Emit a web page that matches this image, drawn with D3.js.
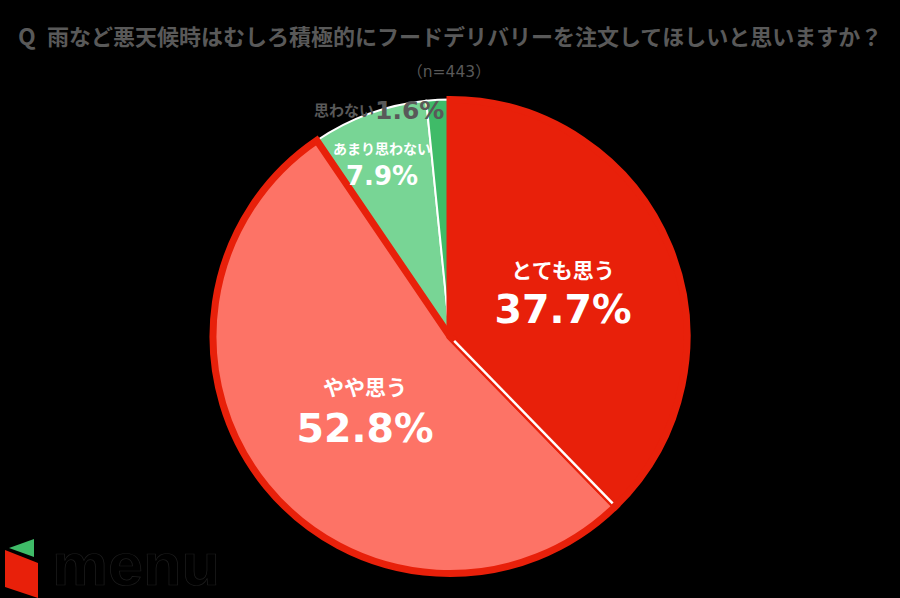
<!DOCTYPE html>
<html lang="ja">
<head>
<meta charset="UTF-8">
<title>Pie</title>
<script src="https://d3js.org/d3.v7.min.js"></script>
<style>
  * { margin: 0; padding: 0; }
  body { background: #000; overflow: hidden; font-family: "Noto Sans CJK JP", sans-serif; }
  svg { display: block; }
  text { font-weight: 700; }
</style>
</head>
<body>
<svg width="900" height="598"></svg>
<script>
const categories = ["とても思う", "やや思う", "あまり思わない", "思わない"];
const values = [37.7, 52.8, 7.9, 1.6];
const fills = ["#e8200a", "#fd7366", "#78d595", "#3fbb68"];
const titleMark = "Q";
const title = "雨など悪天候時はむしろ積極的にフードデリバリーを注文してほしいと思いますか？";
const sampleNote = "（n=443）";
const logoText = "menu";

const svg = d3.select("svg");
const cx = 450, cy = 336.5, radius = 237;

const pie = d3.pie().value(d => d).sort(null);
const slices = pie(values);
const arc = d3.arc().innerRadius(0).outerRadius(radius);

const g = svg.append("g").attr("transform", `translate(${cx},${cy})`);

// 緑 -> ピンク -> 赤 の順で重ねる
const order = [2, 3, 1, 0];
const strokes = ["#e8200a", "#e8200a", "#ffffff", "#ffffff"];
const strokeW = [7, 7, 2, 2];
g.selectAll("path.slice")
  .data(order)
  .enter().append("path")
  .attr("class", "slice")
  .attr("d", i => arc(slices[i]))
  .attr("fill", i => fills[i])
  .attr("stroke", i => strokes[i])
  .attr("stroke-width", i => strokeW[i])
  .attr("stroke-linejoin", "miter");

// 赤とピンクの境目の白線
const sep = d3.pointRadial(slices[0].endAngle, 1);
g.append("line")
  .attr("x1", sep[0] * 6).attr("y1", sep[1] * 6)
  .attr("x2", sep[0] * 233).attr("y2", sep[1] * 233)
  .attr("stroke", "#fff")
  .attr("stroke-width", 2.5);

svg.append("text")
  .attr("x", 18).attr("y", 45)
  .attr("fill", "#595959")
  .attr("font-size", 23)
  .text(titleMark);

svg.append("text")
  .attr("x", 47).attr("y", 45)
  .attr("fill", "#595959")
  .attr("font-size", 22)
  .text(title);

svg.append("text")
  .attr("x", 449).attr("y", 77)
  .attr("text-anchor", "middle")
  .attr("fill", "#595959")
  .attr("font-family", "DejaVu Sans, Noto Sans CJK JP")
  .attr("font-size", 15.5)
  .style("font-weight", 400)
  .text(sampleNote);

const labelPos = [
  { x: 563, y: 278, size: 21, pct: 39.5, dy: 45 },
  { x: 365, y: 395, size: 21, pct: 39.5, dy: 47 },
  { x: 382, y: 154, size: 14, pct: 26, dy: 31 }
];
labelPos.forEach((p, i) => {
  svg.append("text").attr("x", p.x).attr("y", p.y)
    .attr("text-anchor", "middle").attr("fill", "#fff")
    .attr("font-size", p.size).text(categories[i]);
  svg.append("text").attr("x", p.x).attr("y", p.y + p.dy)
    .attr("text-anchor", "middle").attr("fill", "#fff")
    .attr("font-family", "DejaVu Sans")
    .attr("font-size", p.pct).text(values[i].toFixed(1) + "%");
});

svg.append("text").attr("x", 314).attr("y", 116)
  .attr("fill", "#595959").attr("font-size", 15).text(categories[3]);
svg.append("text").attr("x", 375).attr("y", 119)
  .attr("fill", "#595959").attr("font-family", "DejaVu Sans")
  .attr("font-size", 25).text(values[3].toFixed(1) + "%");

// ロゴ
const logo = svg.append("g");
logo.append("path").attr("d", "M9 548 L34 539 L34 557 Z").attr("fill", "#3fbb68");
logo.append("path").attr("d", "M5 550 L38 563 L38 598 L5 587 Z").attr("fill", "#e8200a");
logo.append("text").attr("x", 52).attr("y", 585)
  .attr("fill", "#000").attr("stroke", "#1e1e1e").attr("stroke-width", 0.7)
  .attr("font-family", "Liberation Sans").attr("font-size", 60)
  .attr("textLength", 168).attr("lengthAdjust", "spacingAndGlyphs")
  .text(logoText);
</script>
</body>
</html>
